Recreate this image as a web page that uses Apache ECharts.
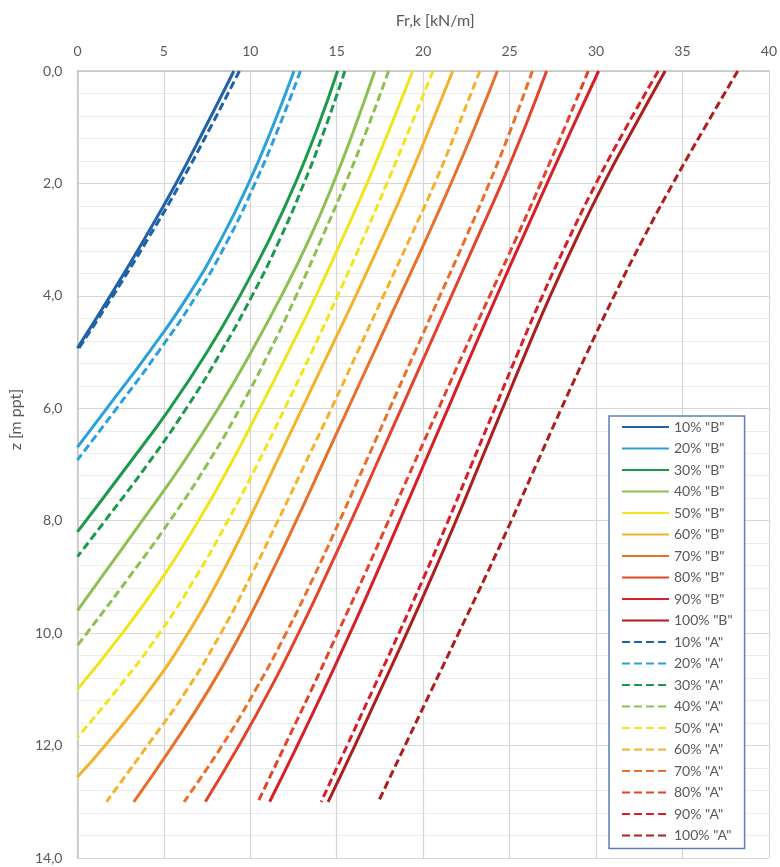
<!DOCTYPE html>
<html>
<head>
<meta charset="utf-8">
<script src="https://cdn.jsdelivr.net/npm/echarts@6/dist/echarts.min.js"></script>
<style>
  html, body { margin: 0; padding: 0; background: #ffffff; }
  #chart { width: 780px; height: 867px; }
</style>
</head>
<body>
<div id="chart"></div>
<script>
// Depth levels (m) at which values were read
const depths = [0, 1, 2, 3, 4, 5, 6, 7, 8, 9, 10, 11, 12, 13];

// Fr,k values [kN/m] for "B" series at each depth in `depths`
const b10 = [9.05, 7.4, 5.7, 3.85, 1.9];
const b20 = [12.53, 11.28, 9.9, 8.3, 6.4, 4.15, 1.7];
const b30 = [15.05, 13.9, 12.6, 11.1, 9.4, 7.5, 5.35, 2.95];
const b40 = [17.2, 16.05, 14.8, 13.4, 11.8, 10.05, 8.15, 6.05, 3.75, 1.4];
const b50 = [19.39, 18.1, 16.75, 15.3, 13.8, 12.2, 10.55, 8.85, 7.0, 4.95, 2.6];
const b60 = [21.71, 20.4, 19.05, 17.6, 16.1, 14.55, 13.0, 11.45, 9.9, 8.25, 6.4, 4.2, 1.6];
const b70 = [24.29, 22.99, 21.61, 20.16, 18.66, 17.16, 15.66, 14.16, 12.66, 11.11, 9.46, 7.61, 5.51, 3.26];
const b80 = [27.14, 25.89, 24.54, 23.09, 21.64, 20.19, 18.74, 17.29, 15.84, 14.34, 12.79, 11.14, 9.34, 7.4];
const b90 = [30.15, 28.65, 27.17, 25.71, 24.26, 22.84, 21.44, 20.04, 18.64, 17.22, 15.77, 14.27, 12.72, 11.12];
const b100 = [34.0, 32.2, 30.45, 28.85, 27.35, 25.95, 24.6, 23.25, 21.9, 20.5, 19.05, 17.55, 16.05, 14.5];

// Fr,k values [kN/m] for "A" series at each depth in `depths`
const a10 = [9.37, 7.7, 5.95, 4.05, 2.05];
const a20 = [12.9, 11.65, 10.27, 8.72, 6.87, 4.67, 2.27];
const a30 = [15.47, 14.35, 13.1, 11.7, 10.1, 8.3, 6.3, 4.05, 1.6];
const a40 = [18.0, 16.8, 15.5, 14.1, 12.65, 11.1, 9.4, 7.5, 5.35, 3.0, 0.55];
const a50 = [20.57, 19.25, 17.9, 16.5, 15.05, 13.55, 12.0, 10.4, 8.7, 6.85, 4.75, 2.3];
const a60 = [23.28, 22.0, 20.67, 19.2, 17.7, 16.2, 14.7, 13.15, 11.6, 10.0, 8.3, 6.35, 4.05, 1.68];
const a70 = [26.32, 25.12, 23.82, 22.42, 20.97, 19.52, 18.07, 16.62, 15.17, 13.67, 12.07, 10.32, 8.37, 6.17];
const a80 = [29.55, 28.2, 26.8, 25.35, 23.85, 22.35, 20.9, 19.45, 18.0, 16.55, 15.05, 13.55, 12.0, 10.45];
const a90 = [33.6, 31.75, 30.0, 28.4, 26.9, 25.5, 24.15, 22.8, 21.45, 20.05, 18.6, 17.1, 15.6, 14.1];
const a100 = [38.2, 36.3, 34.45, 32.7, 31.05, 29.5, 28.0, 26.55, 25.1, 23.6, 22.05, 20.5, 18.95, 17.41];

// Depth where each curve reaches Fr,k = 0 (null = curve ends at 13 m)
const zeroDepthB = [4.93, 6.69, 8.2, 9.6, 11.0, 12.56, null, null, null, null];
const zeroDepthA = [4.97, 6.92, 8.64, 10.22, 11.85, null, null, null, null, null];

const pctLabels = ['10%', '20%', '30%', '40%', '50%', '60%', '70%', '80%', '90%', '100%'];
const colors = ['#1f62a8', '#2aa1db', '#1c9a4b', '#8cc152', '#f2e41a', '#f4b12a', '#e8702a', '#e3432b', '#d81e26', '#ad1f1c'];

// Tick labels
const xTicks = [0, 5, 10, 15, 20, 25, 30, 35, 40];
const yTicks = [0, 2, 4, 6, 8, 10, 12, 14];

const bSets = [b10, b20, b30, b40, b50, b60, b70, b80, b90, b100];
const aSets = [a10, a20, a30, a40, a50, a60, a70, a80, a90, a100];

function buildPoints(vals, zeroDepth) {
  const pts = vals.map((v, i) => [v, depths[i]]);
  if (zeroDepth !== null) pts.push([0, zeroDepth]);
  return pts;
}

const FONT = 'Lato';
const series = [];
bSets.forEach((vals, i) => {
  series.push({
    name: pctLabels[i] + ' "B"',
    type: 'line',
    data: buildPoints(vals, zeroDepthB[i]),
    symbol: 'none',
    smooth: 0.5,
    lineStyle: { color: colors[i], width: 3, type: 'solid' },
    itemStyle: { color: colors[i] },
    z: 3
  });
});
aSets.forEach((vals, i) => {
  series.push({
    name: pctLabels[i] + ' "A"',
    type: 'line',
    data: buildPoints(vals, zeroDepthA[i]),
    symbol: 'none',
    smooth: 0.5,
    lineStyle: { color: colors[i], width: 3, type: [8, 4] },
    itemStyle: { color: colors[i] },
    z: 3
  });
});

const chart = echarts.init(document.getElementById('chart'), null, { renderer: 'canvas' });
chart.setOption({
  animation: false,
  backgroundColor: '#ffffff',
  grid: { left: 72, right: 8, top: 71, bottom: 9, containLabel: false },
  xAxis: {
    type: 'value',
    position: 'top',
    min: xTicks[0],
    max: xTicks[xTicks.length - 1],
    interval: 5,
    name: 'Fr,k [kN/m]',
    nameLocation: 'middle',
    nameGap: 42,
    nameTextStyle: { fontFamily: FONT, fontSize: 16, color: '#595959', padding: [0, 0, 0, 24] },
    axisLine: { show: true, lineStyle: { color: '#c4c4c4', width: 1.5 } },
    axisTick: { show: false },
    axisLabel: { fontFamily: FONT, fontSize: 14, color: '#595959', margin: 13 },
    splitLine: { show: true, lineStyle: { color: '#d6d6d6', width: 1.2 } }
  },
  yAxis: {
    type: 'value',
    inverse: true,
    min: yTicks[0],
    max: yTicks[yTicks.length - 1],
    interval: 2,
    name: 'z [m ppt]',
    nameLocation: 'middle',
    nameGap: 46,
    nameTextStyle: { fontFamily: FONT, fontSize: 16, color: '#595959', padding: [0, 0, 0, 90] },
    axisLine: { show: true, lineStyle: { color: '#c4c4c4', width: 1.5 } },
    axisTick: { show: false },
    axisLabel: {
      fontFamily: FONT, fontSize: 14, color: '#595959', margin: 15,
      formatter: v => v.toFixed(1).replace('.', ',')
    },
    splitLine: { show: true, lineStyle: { color: '#d6d6d6', width: 1.2 } },
    minorTick: { show: false, splitNumber: 5 },
    minorSplitLine: { show: true, lineStyle: { color: '#ececec', width: 1 } }
  },
  legend: {
    orient: 'vertical',
    left: 609,
    top: 416,
    padding: [4, 12, 6, 12],
    itemWidth: 47,
    itemHeight: 12,
    itemGap: 7.5,
    backgroundColor: '#ffffff',
    borderColor: '#5b80b8',
    borderWidth: 1.5,
    borderRadius: 0,
    itemStyle: { opacity: 0 },
    textStyle: { fontFamily: FONT, fontSize: 14, color: '#595959', lineHeight: 14 },
    data: series.map(s => s.name)
  },
  series: series
});
</script>
</body>
</html>
